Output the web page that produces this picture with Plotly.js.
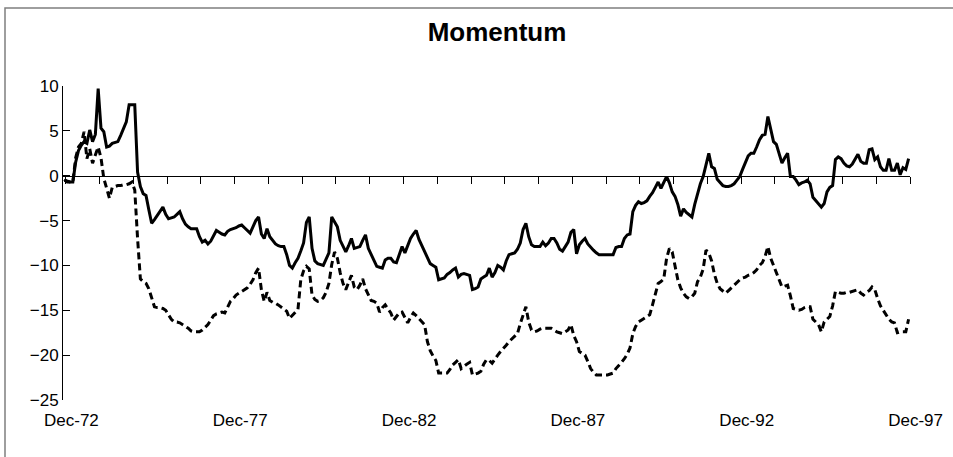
<!DOCTYPE html>
<html>
<head>
<meta charset="utf-8">
<script src="https://cdn.plot.ly/plotly-3.0.1.min.js"></script>
<style>
  html, body { margin: 0; padding: 0; background: #fff; }
  #chart { width: 953px; height: 457px; }
</style>
</head>
<body>
<div id="chart"></div>
<script>
// Monthly momentum readings, Dec-72 .. Dec-97 (301 months)
const solidSeries = [
    -0.5, -0.6, -0.7, -0.7, 1.5, 2.8, 3.4, 3.8, 3.6, 5.1, 3.8, 4.6,
    9.7, 5.3, 4.9, 3.2, 3.3, 3.6, 3.7, 3.8, 4.5, 5.3, 6.0, 7.9,
    7.9, 7.9, 0.4, -1.2, -2.0, -2.2, -3.8, -5.3, -4.9, -4.4, -4.0, -3.5,
    -4.3, -4.8, -4.7, -4.6, -4.3, -4.0, -4.8, -5.4, -5.7, -5.9, -5.9, -5.9,
    -6.8, -7.4, -7.2, -7.6, -7.3, -6.7, -6.1, -6.3, -6.5, -6.6, -6.2, -6.0,
    -5.9, -5.8, -5.6, -5.5, -5.8, -6.1, -6.4, -5.7, -5.0, -4.6, -6.5, -7.0,
    -5.9, -6.8, -7.2, -7.6, -7.8, -7.9, -7.9, -8.8, -10.0, -10.3, -9.7, -9.2,
    -8.4, -7.5, -5.2, -4.6, -8.1, -9.5, -9.8, -9.9, -10.0, -9.3, -8.6, -4.6,
    -5.2, -5.7, -7.2, -7.9, -8.5, -7.8, -7.0, -8.1, -8.0, -7.9, -7.2, -6.6,
    -8.1, -8.8, -9.5, -10.1, -10.2, -10.3, -9.4, -9.2, -9.2, -9.6, -9.7, -8.8,
    -7.9, -8.6, -7.8, -7.0, -6.5, -6.1, -7.1, -7.8, -8.4, -9.1, -9.8, -10.0,
    -10.2, -11.6, -11.5, -11.4, -11.0, -10.8, -10.5, -10.3, -11.3, -11.0, -10.9, -11.0,
    -11.1, -12.7, -12.6, -12.4, -11.5, -11.3, -11.1, -10.3, -11.3, -10.8, -10.0, -10.2,
    -10.5, -9.5, -8.8, -8.7, -8.6, -8.2, -7.5, -6.0, -5.3, -6.8, -7.7, -7.9,
    -7.9, -7.9, -7.4, -7.8, -7.5, -7.0, -7.0, -7.5, -8.2, -8.4, -7.9, -7.4,
    -6.3, -6.0, -8.7, -7.7, -7.3, -7.0, -7.6, -8.0, -8.3, -8.6, -8.8, -8.8,
    -8.8, -8.8, -8.8, -8.8, -8.0, -7.9, -7.9, -7.0, -6.6, -6.5, -4.0, -3.3,
    -2.9, -3.1, -3.0, -2.8, -2.3, -1.9, -1.3, -0.7, -1.4, -0.8, -0.1, -0.8,
    -1.8, -2.3, -3.2, -4.5, -3.7, -4.1, -4.4, -4.6, -3.2, -2.0, -0.9, -0.1,
    1.4, 2.5, 1.0, 0.8, -0.4, -0.8, -1.1, -1.2, -1.2, -1.1, -0.9, -0.5,
    -0.1, 0.7, 1.5, 2.2, 2.5, 2.5, 3.2, 4.0, 4.5, 4.6, 6.6, 5.2,
    3.8, 3.5, 2.5, 1.4, 2.0, 2.5, -0.1, -0.1, -0.5, -1.0, -0.8, -0.7,
    -0.5, -0.9, -2.4, -2.8, -3.2, -3.5, -3.1, -1.8, -1.3, -1.1, 1.8, 2.1,
    1.9, 1.4, 1.1, 1.0, 1.3, 1.9, 2.4, 1.6, 1.4, 1.4, 2.9, 3.0,
    1.8, 2.1, 1.0, 0.6, 0.6, 1.9, 0.6, 0.6, 1.4, 0.1, 0.9, 0.7, 1.9
];

const dashedSeries = [
    -0.4, -0.7, -0.7, -0.7, 2.0, 3.2, 3.6, 4.9, 1.9, 3.0, 1.4, 2.3,
    3.2, 2.0, -0.3, -1.4, -2.5, -1.3, -1.2, -1.1, -1.1, -1.0, -1.0, -0.9,
    -0.7, -1.6, -7.0, -11.5, -11.8, -12.0, -12.6, -13.7, -14.6, -14.7, -14.7, -14.8,
    -15.0, -15.5, -16.0, -16.3, -16.3, -16.4, -16.6, -16.8, -17.0, -17.3, -17.4, -17.4,
    -17.4, -17.2, -16.9, -16.6, -16.1, -15.6, -15.4, -15.3, -15.2, -15.3, -14.6, -14.0,
    -13.7, -13.3, -13.1, -12.9, -12.7, -12.5, -12.1, -11.6, -10.8, -10.3, -12.7, -14.0,
    -13.0, -13.9, -14.1, -14.2, -14.4, -14.6, -14.8, -15.1, -15.9, -15.6, -15.2, -14.9,
    -11.6, -10.6, -10.1, -10.4, -13.3, -13.8, -14.0, -13.9, -13.6, -13.0, -12.0, -9.9,
    -8.5, -9.2, -10.8, -12.0, -12.7, -11.9, -11.1, -12.4, -12.7, -12.2, -11.5, -12.6,
    -13.2, -13.9, -14.0, -14.2, -15.2, -14.7, -14.4, -14.8, -15.3, -16.1, -15.7, -15.3,
    -15.2, -15.8, -16.4, -15.8, -15.3, -15.6, -15.9, -16.3, -16.6, -18.5, -19.5, -20.1,
    -20.6, -22.0, -22.0, -22.0, -22.0, -21.6, -21.1, -20.8, -20.5, -21.5, -21.2, -21.0,
    -20.8, -22.2, -22.1, -22.0, -21.8, -21.0, -20.5, -20.6, -20.9, -20.4, -20.0, -19.6,
    -19.3, -18.9, -18.5, -18.2, -17.9, -17.6, -16.5, -15.5, -14.6, -16.3, -17.2, -17.4,
    -17.3, -17.1, -17.0, -17.0, -17.0, -17.0, -17.2, -17.4, -17.5, -17.6, -17.4, -17.2,
    -16.6, -17.8, -18.5, -19.6, -19.8, -20.0, -20.7, -21.5, -21.9, -22.2, -22.2, -22.2,
    -22.2, -22.2, -22.1, -22.0, -21.5, -21.2, -20.8, -20.4, -19.9, -19.2, -17.6, -16.8,
    -16.3, -16.1, -15.9, -15.7, -15.5, -14.4, -13.3, -12.0, -11.8, -11.5, -9.2, -8.1,
    -8.5, -10.0, -11.6, -12.5, -13.1, -13.5, -13.7, -13.5, -13.1, -11.8, -11.3, -10.4,
    -8.3, -8.6, -9.5, -11.0, -12.0, -12.6, -12.9, -13.1, -12.8, -12.5, -12.1, -11.8,
    -11.6, -11.4, -11.3, -11.1, -11.0, -10.8, -10.5, -10.0, -9.7, -9.0, -7.9, -9.2,
    -10.0, -11.0, -11.8, -12.4, -12.3, -12.2, -13.4, -14.8, -14.9, -15.0, -14.9, -14.7,
    -14.6, -14.6, -16.0, -16.3, -16.6, -17.4, -16.3, -16.0, -15.7, -14.5, -12.9, -13.0,
    -13.1, -13.1, -13.0, -13.0, -12.9, -12.8, -12.7, -13.1, -13.3, -13.0, -12.8, -12.4,
    -12.7, -13.7, -14.5, -15.0, -15.5, -16.0, -16.3, -16.4, -17.5, -17.4, -17.4, -17.4, -16.0
];

// category axis labels (one every 60 months)
const tickLabels = ['Dec-72', 'Dec-77', 'Dec-82', 'Dec-87', 'Dec-92', 'Dec-97'];
const labelEvery = 60;
const tickEvery = 12;

const months = solidSeries.map((v, i) => i);
const labelVals = tickLabels.map((t, k) => k * labelEvery);
// tick marks sit on category boundaries, counted back from the last month
const yearTicks = [];
for (let b = months.length - 0.5; b > 0; b -= tickEvery) yearTicks.push(b);

const font = 'Liberation Sans, Arial, sans-serif';

Plotly.newPlot('chart', [
    {
        x: months,
        y: solidSeries,
        mode: 'lines',
        line: { color: '#000', width: 3 },
        hoverinfo: 'y',
        xaxis: 'x',
        yaxis: 'y'
    },
    {
        x: months,
        y: dashedSeries,
        mode: 'lines',
        line: { color: '#000', width: 3, dash: '7px,4px' },
        hoverinfo: 'y',
        xaxis: 'x2',
        yaxis: 'y'
    }
], {
    width: 953,
    height: 457,
    margin: { l: 63, r: 43, t: 86, b: 57 },
    paper_bgcolor: '#fff',
    plot_bgcolor: '#fff',
    showlegend: false,
    font: { family: font, color: '#000' },
    title: {
        text: 'Momentum',
        font: { family: font, size: 26, weight: 700, color: '#000' },
        xref: 'container', x: 497 / 953, xanchor: 'center',
        yref: 'container', y: 1 - 32 / 457, yanchor: 'middle'
    },
    xaxis: {
        range: [-0.5, months.length - 0.5],
        tickvals: labelVals,
        ticktext: tickLabels,
        ticks: '',
        showline: false,
        showgrid: false,
        zeroline: false,
        tickfont: { size: 17 },
        ticklabelshift: 7,
        ticklabelstandoff: 8
    },
    xaxis2: {
        overlaying: 'x',
        anchor: 'free',
        position: 25 / 35, // y = 0 on the value axis
        range: [-0.5, months.length - 0.5],
        tickvals: yearTicks,
        ticks: 'outside',
        ticklen: 7,
        tickcolor: '#000',
        showticklabels: false,
        showline: true,
        linecolor: '#000',
        linewidth: 1,
        showgrid: false,
        zeroline: false
    },
    yaxis: {
        range: [-25, 10],
        tick0: 0,
        dtick: 5,
        ticks: 'inside',
        ticklen: 7,
        tickcolor: '#000',
        showline: true,
        linecolor: '#000',
        linewidth: 1,
        showgrid: false,
        zeroline: false,
        tickfont: { size: 17 }
    },
    shapes: [{
        // chart frame
        type: 'rect', xref: 'paper', yref: 'paper',
        x0: (5 - 63) / 847, x1: (960 - 63) / 847,
        y0: (400 - 465) / 314, y1: (400 - 8) / 314,
        line: { color: '#7f7f7f', width: 1.5 },
        layer: 'below'
    }]
}, { displayModeBar: false, staticPlot: true });
</script>
</body>
</html>
